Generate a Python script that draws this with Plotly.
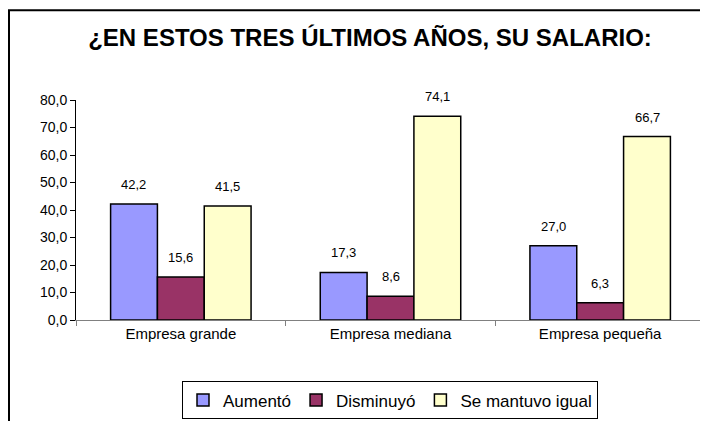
import plotly.graph_objects as go

categories = ["Empresa grande", "Empresa mediana", "Empresa pequeña"]
series_names = ["Aumentó", "Disminuyó", "Se mantuvo igual"]
aumento = [42.2, 17.3, 27.0]
disminuyo = [15.6, 8.6, 6.3]
igual = [41.5, 74.1, 66.7]
colors = ["#9999FF", "#993366", "#FFFFCC"]

# page has an 8px body margin: figure coordinates = screen coordinates - 8
OFF = 8
W, H = 700, 413
L = 76 - OFF
R = W - (705 - OFF)
T = 100 - OFF
B = H - (320.5 - OFF)
pw, ph = W - L - R, H - T - B

def sx(px):  # screen x -> paper x
    return (px - OFF - L) / pw

def sy(py):  # screen y -> paper y
    return (H - B - (py - OFF)) / ph

FONT = "Liberation Sans, Arial"

fig = go.Figure()
for name, vals, col in zip(series_names, [aumento, disminuyo, igual], colors):
    fig.add_trace(go.Bar(
        x=categories, y=vals, name=name,
        marker=dict(color=col, line=dict(color="black", width=1.5)),
    ))

# value labels above bars
offsets = [-47, 0, 47]
for vals, off in zip([aumento, disminuyo, igual], offsets):
    for c, v in zip(categories, vals):
        fig.add_annotation(
            x=c, y=v, xref="x", yref="y", text=f"{v:.1f}".replace(".", ","),
            showarrow=False, xshift=off, yanchor="bottom", yshift=10,
            font=dict(family=FONT, size=13, color="black"),
        )

# frame lines (figure border, cropped)
fig.add_shape(type="line", xref="paper", yref="paper",
              x0=sx(9), x1=sx(9), y0=sy(10), y1=sy(440),
              line=dict(color="black", width=2))
fig.add_shape(type="line", xref="paper", yref="paper",
              x0=sx(8), x1=sx(730), y0=sy(10), y1=sy(10),
              line=dict(color="black", width=2))

fig.update_layout(
    width=W, height=H,
    margin=dict(l=L, r=R, t=T, b=B, pad=0, autoexpand=False),
    paper_bgcolor="white", plot_bgcolor="white",
    separators=",.",
    barmode="group", bargap=0.33, bargroupgap=0,
    font=dict(family=FONT, size=14, color="black"),
    title=dict(text="<b>¿EN ESTOS TRES ÚLTIMOS AÑOS, SU SALARIO:</b>",
               x=(370 - OFF) / W, xanchor="center",
               y=1 - (38 - OFF) / H, yanchor="middle",
               font=dict(family=FONT, size=24, color="black")),
    showlegend=True,
    legend=dict(orientation="h", x=sx(390), xanchor="center",
                y=sy(382), yanchor="top",
                bordercolor="black", borderwidth=1, bgcolor="white",
                font=dict(family=FONT, size=17),
                itemwidth=30, traceorder="normal"),
    xaxis=dict(showline=True, linecolor="#808080", linewidth=1,
               ticks="outside", ticklen=5, tickcolor="#808080",
               tickson="boundaries", showgrid=False,
               tickfont=dict(size=15)),
    yaxis=dict(range=[0, 80], dtick=10, tickformat=".1f",
               showline=True, linecolor="black", linewidth=1,
               ticks="outside", ticklen=5, tickcolor="black",
               showgrid=False, zeroline=False,
               tickfont=dict(size=14)),
)

fig.write_html("out.html")
